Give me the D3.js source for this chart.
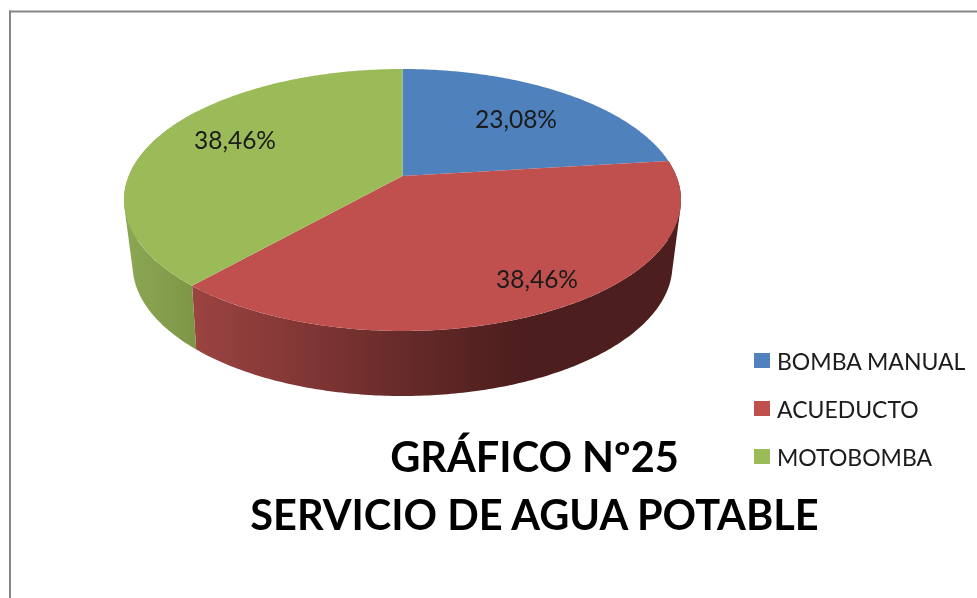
<!DOCTYPE html>
<html><head><meta charset="utf-8">
<script src="https://cdn.jsdelivr.net/npm/d3@7"></script>
<style>html,body{margin:0;padding:0;background:#fff;overflow:hidden}svg{display:block}
text{font-family:Lato,"Open Sans",sans-serif}</style></head>
<body><svg id="c" width="977" height="598"></svg>
<script>
const categories = ["BOMBA MANUAL","ACUEDUCTO","MOTOBOMBA"];
const percentages = [23.08,38.46,38.46];
const topColors = ["#4f81bd","#c0504d","#9bbb59"];
const titleLines = ["GRÁFICO Nº25","SERVICIO DE AGUA POTABLE"];

const W=977,H=598;
const svg=d3.select("#c").attr("viewBox",[0,0,W,H]);
const defs=svg.append("defs");
defs.append("filter").attr("id","soft").append("feGaussianBlur").attr("stdDeviation",0.45);
svg.append("rect").attr("x",9).attr("y",10.5).attr("width",W-9).attr("height",2).attr("fill","#868686");
svg.append("rect").attr("x",9).attr("y",10.5).attr("width",2).attr("height",H-10).attr("fill","#868686");

const project=(g)=>(theta,r=1)=>{
  const u=Math.sin(theta)*r, v=-Math.cos(theta)*r, d=1-g.p*v;
  return [g.cx+g.A*u/d, g.cy+g.B*v/d];
};
const topP=project({cx:402.5,cy:176,A:273.8,B:126.6,p:0.183});
const botP=project({cx:402.5,cy:238.75,A:264.5,B:125.8,p:0.2});

const color=d3.scaleOrdinal(categories,topColors);
const pie=d3.pie().value((d,i)=>percentages[i]).sort(null);
const slices=pie(categories);
const wallStops={
  "ACUEDUCTO":[[197,"#9a4341"],[300,"#823735"],[400,"#672b2a"],[520,"#4c1e1d"],[690,"#4c1e1d"]],
  "MOTOBOMBA":[[130,"#8ba653"],[197,"#7c9646"]]
};
Object.entries(wallStops).forEach(([k,stops],i)=>{
  const g=defs.append("linearGradient").attr("id","wall"+k).attr("gradientUnits","userSpaceOnUse")
    .attr("x1",stops[0][0]).attr("x2",stops[stops.length-1][0]).attr("y1",0).attr("y2",0);
  const off=d3.scaleLinear().domain([stops[0][0],stops[stops.length-1][0]]).range([0,1]);
  stops.forEach(s=>g.append("stop").attr("offset",off(s[0])).attr("stop-color",s[1]));
});
const line=d3.line();
// side wall: the union of one quad per angular step (so the silhouette is hull-shaped)
const gWall=svg.append("g");
slices.filter(s=>wallStops[s.data]).forEach(s=>{
  const a0=Math.max(s.startAngle,Math.PI/2-0.6), stop=Math.min(s.endAngle,Math.PI*1.5+0.6);
  if(stop<=a0) return;
  const n=Math.ceil((stop-a0)/0.012);
  let dstr="";
  d3.range(n).forEach(i=>{
    const t=a0+(stop-a0)*i/n, t2=a0+(stop-a0)*(i+1)/n;
    let q=[topP(t),topP(t2),botP(t2),botP(t)];
    if(d3.polygonArea(q)<0) q=q.reverse();
    dstr+=line(q)+"Z";
  });
  gWall.append("path").attr("d",dstr).attr("fill-rule","nonzero").attr("fill",`url(#wall${s.data})`);
});
// top face
svg.append("g").selectAll("path").data(slices).join("path")
  .attr("fill",d=>color(d.data))
  .attr("d",s=>{
    const n=Math.ceil((s.endAngle-s.startAngle)/0.01);
    const pts=[topP(0,0)].concat(d3.range(n+1).map(i=>topP(s.startAngle+(s.endAngle-s.startAngle)*i/n)));
    return line(pts)+"Z";
  });
// data labels
const labelPos=[[516,118],[537,278],[235,139]];
const fmt=v=>v.toFixed(2).replace(".",",")+"%";
const tg=svg.append("g").attr("filter","url(#soft)");
tg.append("g").selectAll("text").data(percentages).join("text")
  .attr("x",(d,i)=>labelPos[i][0]).attr("y",(d,i)=>labelPos[i][1])
  .attr("text-anchor","middle").attr("dominant-baseline","central")
  .attr("font-size",24.5).attr("fill","#1a1a1a").text(fmt);
// legend
const legendY=d3.scalePoint().domain(categories).range([360.5,456.5]);
const lg=svg.append("g").selectAll("g").data(categories).join("g");
lg.append("rect").attr("x",754).attr("y",d=>legendY(d)-7.5).attr("width",16).attr("height",15).attr("fill",d=>color(d));
tg.append("g").selectAll("text").data(categories).join("text").attr("x",777).attr("y",d=>legendY(d)).attr("dominant-baseline","central")
  .attr("font-size",23).attr("fill","#1a1a1a").text(d=>d);
// title
tg.append("g").selectAll("text").data(titleLines).join("text")
  .attr("x",534.5).attr("y",(d,i)=>472+i*58).attr("text-anchor","middle")
  .attr("font-size",41.5).attr("font-weight",700).attr("fill","#000").text(d=>d);
</script></body></html>
